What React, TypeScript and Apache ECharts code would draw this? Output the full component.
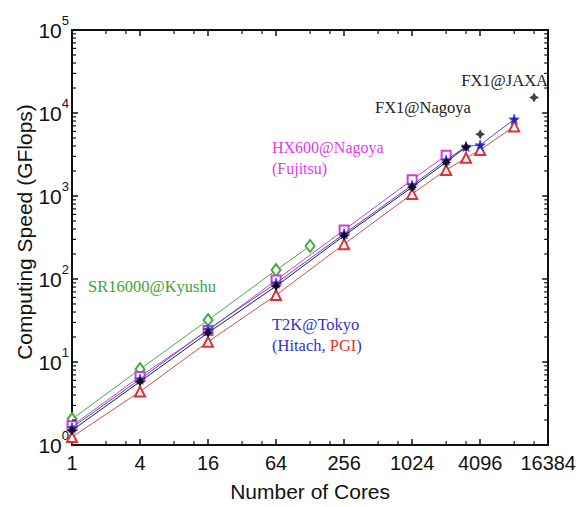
import React, { useEffect, useRef } from "react";
import * as echarts from "echarts";

// ---- data ----
const sr16000Cores = [1, 4, 16, 64, 128];
const sr16000Speed = [2.05, 8.2, 32, 128, 250];

const hx600Cores = [1, 4, 16, 64, 256, 1024, 2048];
const hx600Speed = [1.7, 6.7, 24, 97, 390, 1570, 3100];

const fx1NagoyaCores = [1, 4, 16, 64, 256, 1024, 2048, 3072];
const fx1NagoyaSpeed = [1.5, 5.8, 22.5, 82, 333, 1280, 2550, 3900];

const fx1JaxaCores = [4096, 12288];
const fx1JaxaSpeed = [5550, 15400];

const t2kCores = [1, 4, 16, 64, 256, 1024, 2048, 3072, 4096, 8192];
const t2kHitachiSpeed = [1.62, 6.2, 24.6, 89, 350, 1350, 2700, 3950, 4100, 8400];
const t2kPgiSpeed = [1.25, 4.4, 17.5, 64, 263, 1060, 2060, 2880, 3580, 6900];

// axis ticks
const xMinorTicks = [2, 3, 8, 12, 32, 48, 128, 192, 512, 768, 2048, 3072, 8192, 12288];
const yDecades = [1, 10, 100, 1000, 10000];
const yMinorFactors = [2, 3, 4, 5, 6, 7, 8, 9];

const GREEN = "#3fae3f";
const MAGENTA = "#d23cd8";
const BLUE = "#3333cc";
const RED = "#e23030";
const BLACK = "#111111";

const STAR5 =
  "path://M0,-10L2.351,-3.236L9.511,-3.090L3.804,1.236L5.878,8.090L0,4L-5.878,8.090L-3.804,1.236L-9.511,-3.090L-2.351,-3.236Z";
const STAR4 = "path://M0,-10L3.6,-3.6L10,0L3.6,3.6L0,10L-3.6,3.6L-10,0L-3.6,-3.6Z";

const zip = (xs: number[], ys: number[]) => xs.map((x, i) => [x, ys[i]]);

export default function App() {
  const ref = useRef<HTMLDivElement>(null);

  useEffect(() => {
    document.body.style.margin = "0";
    if (!ref.current) return;
    const chart = echarts.init(ref.current, undefined, { renderer: "svg" });

    const tickData: number[][] = [];
    yDecades.forEach((d) => yMinorFactors.forEach((f) => tickData.push([1, d * f, 0])));
    xMinorTicks.forEach((v) => tickData.push([v, 1, 1]));

    const sansFont = "Liberation Sans, Arial, sans-serif";
    const serifFont = "Liberation Serif, Times New Roman, serif";

    const xAxisBase = {
      type: "log" as const,
      logBase: 4,
      min: 1,
      max: 16384,
      splitLine: { show: false },
      axisLine: { show: true, lineStyle: { color: BLACK, width: 2 } },
      axisTick: { show: true, inside: true, length: 6, lineStyle: { color: BLACK, width: 1.5 } },
    };
    const yAxisBase = {
      type: "log" as const,
      logBase: 10,
      min: 1,
      max: 100000,
      splitLine: { show: false },
      axisLine: { show: true, lineStyle: { color: BLACK, width: 2 } },
      axisTick: { show: true, inside: true, length: 6, lineStyle: { color: BLACK, width: 1.5 } },
    };

    const option: any = {
      animation: false,
      backgroundColor: "#ffffff",
      grid: { left: 72, right: 26, top: 30, bottom: 59, containLabel: false },
      xAxis: [
        {
          ...xAxisBase,
          position: "bottom",
          name: "Number of Cores",
          nameLocation: "middle",
          nameGap: 36,
          nameTextStyle: { fontFamily: sansFont, fontSize: 21, color: BLACK },
          axisLabel: {
            margin: 8,
            fontFamily: sansFont,
            fontSize: 20,
            color: BLACK,
            formatter: (v: number) => String(Math.round(v)),
          },
        },
        { ...xAxisBase, position: "top", axisLabel: { show: false } },
      ],
      yAxis: [
        {
          ...yAxisBase,
          position: "left",
          axisLabel: {
            margin: 3,
            color: BLACK,
            formatter: (v: number) => `{b|10}{s|${Math.round(Math.log10(v))}}`,
            rich: {
              b: { fontFamily: sansFont, fontSize: 21, color: BLACK, lineHeight: 33, verticalAlign: "middle" },
              s: { fontFamily: sansFont, fontSize: 13, color: BLACK, verticalAlign: "top" },
            },
          },
        },
        { ...yAxisBase, position: "right", axisLabel: { show: false } },
      ],
      graphic: [
        {
          type: "text",
          x: 24,
          y: 232,
          rotation: Math.PI / 2,
          style: {
            text: "Computing Speed (GFlops)",
            fill: BLACK,
            font: `21px ${sansFont}`,
            align: "center",
            verticalAlign: "middle",
          },
        },
        {
          type: "text",
          x: 548,
          y: 80,
          style: { text: "FX1@JAXA", fill: "#222", font: `16.5px ${serifFont}`, align: "right", verticalAlign: "middle" },
        },
        {
          type: "text",
          x: 375,
          y: 107,
          style: { text: "FX1@Nagoya", fill: "#222", font: `16.5px ${serifFont}`, align: "left", verticalAlign: "middle" },
        },
        {
          type: "text",
          x: 272,
          y: 147,
          style: { text: "HX600@Nagoya", fill: "#e03ce6", font: `16px ${serifFont}`, align: "left", verticalAlign: "middle" },
        },
        {
          type: "text",
          x: 272,
          y: 168,
          style: { text: "(Fujitsu)", fill: "#e03ce6", font: `16px ${serifFont}`, align: "left", verticalAlign: "middle" },
        },
        {
          type: "text",
          x: 88,
          y: 286,
          style: { text: "SR16000@Kyushu", fill: "#3ca43c", font: `16.5px ${serifFont}`, align: "left", verticalAlign: "middle" },
        },
        {
          type: "text",
          x: 272,
          y: 324,
          style: { text: "T2K@Tokyo", fill: BLUE, font: `16.5px ${serifFont}`, align: "left", verticalAlign: "middle" },
        },
        {
          type: "text",
          x: 272,
          y: 345,
          style: {
            text: "{b|(Hitach, }{r|PGI}{b|)}",
            align: "left",
            verticalAlign: "middle",
            rich: {
              b: { fill: BLUE, fontFamily: serifFont, fontSize: 16.5 },
              r: { fill: RED, fontFamily: serifFont, fontSize: 16.5 },
            },
          },
        },
      ],
      series: [
        {
          type: "custom",
          coordinateSystem: "cartesian2d",
          xAxisIndex: 0,
          yAxisIndex: 0,
          silent: true,
          clip: false,
          z: 10,
          dimensions: ["x", "y", "k"],
          encode: { x: 0, y: 1 },
          data: tickData,
          renderItem: (params: any, api: any) => {
            const cs = params.coordSys;
            const kind = api.value(2);
            const st = { stroke: BLACK, lineWidth: 1.2 };
            const len = 4;
            if (kind === 0) {
              const y = api.coord([1, api.value(1)])[1];
              return {
                type: "group",
                children: [
                  { type: "line", shape: { x1: cs.x, y1: y, x2: cs.x + len, y2: y }, style: st },
                  { type: "line", shape: { x1: cs.x + cs.width - len, y1: y, x2: cs.x + cs.width, y2: y }, style: st },
                ],
              };
            }
            const x = api.coord([api.value(0), 1])[0];
            return {
              type: "group",
              children: [
                { type: "line", shape: { x1: x, y1: cs.y + cs.height, x2: x, y2: cs.y + cs.height - len }, style: st },
                { type: "line", shape: { x1: x, y1: cs.y, x2: x, y2: cs.y + len }, style: st },
              ],
            };
          },
        },
        {
          name: "SR16000@Kyushu",
          type: "line",
          data: zip(sr16000Cores, sr16000Speed),
          symbol: "emptyDiamond",
          symbolSize: [9, 12],
          lineStyle: { color: GREEN, width: 1 },
          itemStyle: { color: GREEN, borderWidth: 1.5 },
          z: 3,
        },
        {
          name: "HX600@Nagoya",
          type: "line",
          data: zip(hx600Cores, hx600Speed),
          symbol: "emptyRect",
          symbolSize: 9,
          lineStyle: { color: MAGENTA, width: 1 },
          itemStyle: { color: MAGENTA, borderWidth: 1.5 },
          z: 3,
        },
        {
          name: "T2K@Tokyo (PGI)",
          type: "line",
          data: zip(t2kCores, t2kPgiSpeed),
          symbol: "emptyTriangle",
          symbolSize: 10,
          lineStyle: { color: "#c85050", width: 1 },
          itemStyle: { color: RED, borderWidth: 1.5 },
          z: 3,
        },
        {
          name: "T2K@Tokyo (Hitachi)",
          type: "line",
          data: zip(t2kCores, t2kHitachiSpeed),
          symbol: STAR5,
          symbolSize: 10,
          lineStyle: { color: "#4a4ad0", width: 1 },
          itemStyle: { color: "#22228a", borderColor: "#4848ff", borderWidth: 1 },
          z: 4,
        },
        {
          name: "FX1@Nagoya",
          type: "line",
          data: zip(fx1NagoyaCores, fx1NagoyaSpeed),
          symbol: STAR4,
          symbolSize: 10,
          lineStyle: { color: "#1a1a40", width: 1 },
          itemStyle: { color: BLACK },
          z: 5,
        },
        {
          name: "FX1@JAXA",
          type: "scatter",
          data: zip(fx1JaxaCores, fx1JaxaSpeed),
          symbol: STAR4,
          symbolSize: 10,
          itemStyle: { color: BLACK },
          z: 5,
        },
      ],
    };

    chart.setOption(option);
    return () => chart.dispose();
  }, []);

  return <div ref={ref} style={{ width: 579, height: 507 }} />;
}
